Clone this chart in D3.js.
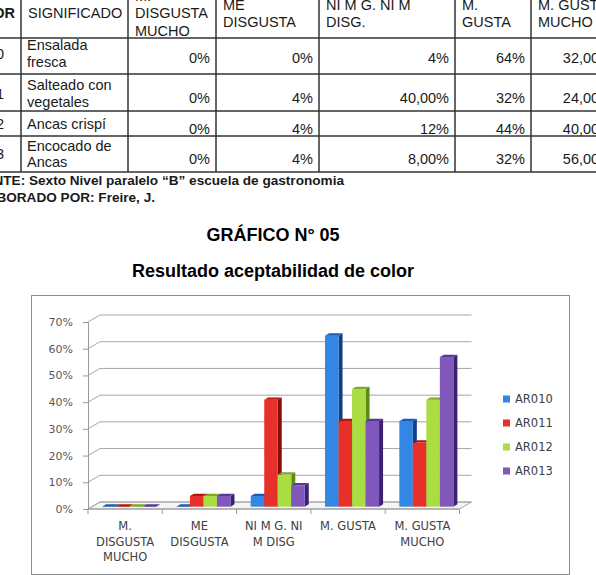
<!DOCTYPE html>
<html>
<head>
<meta charset="utf-8">
<script src="https://cdn.jsdelivr.net/npm/d3@7"></script>
<style>
  body { margin: 0; background: #fff; }
  svg { display: block; }
</style>
</head>
<body>
<svg id="chart" width="596" height="575"></svg>
<script>
// chart data
const categories = ['M. DISGUSTA MUCHO', 'ME DISGUSTA', 'NI M G. NI M DISG', 'M. GUSTA', 'M. GUSTA MUCHO']
const categoryLines = [['M.', 'DISGUSTA', 'MUCHO'], ['ME', 'DISGUSTA'], ['NI M G. NI', 'M DISG'], ['M. GUSTA'], ['M. GUSTA', 'MUCHO']]
const seriesNames = ['AR010', 'AR011', 'AR012', 'AR013']
const ar010 = [0, 0, 0.04, 0.64, 0.32]
const ar011 = [0, 0.04, 0.40, 0.32, 0.24]
const ar012 = [0, 0.04, 0.12, 0.44, 0.40]
const ar013 = [0, 0.04, 0.08, 0.32, 0.56]
const yTicks = [0, 0.1, 0.2, 0.3, 0.4, 0.5, 0.6, 0.7]

// table data
const tableHead = [['COLOR'], ['SIGNIFICADO'], ['M.', 'DISGUSTA', 'MUCHO'], ['ME', 'DISGUSTA'], ['NI M G. NI M', 'DISG.'], ['M.', 'GUSTA'], ['M. GUSTA', 'MUCHO']]
const dishNames = [['Ensalada', 'fresca'], ['Salteado con', 'vegetales'], ['Ancas crispí'], ['Encocado de', 'Ancas']]
const tableValues = [
  ['0%', '0%', '4%', '64%', '32,00%'],
  ['0%', '4%', '40,00%', '32%', '24,00%'],
  ['0%', '4%', '12%', '44%', '40,00%'],
  ['0%', '4%', '8,00%', '32%', '56,00%']
]
const fuente = 'FUENTE: Sexto Nivel paralelo “B” escuela de gastronomia'
const elaborado = 'ELABORADO POR: Freire, J.'

const svg = d3.select('#chart')

//---------- table ----------
const colX = [-46, 21, 128, 216, 319, 455, 531, 618]
const rowY = [-30, 38, 74, 111, 136, 172]
const tFont = 'Liberation Sans, Arial, sans-serif'
const table = svg.append('g')
  .attr('font-family', tFont)
  .attr('font-size', 14.5)
  .attr('fill', '#1a1a1a')

colX.forEach(x => {
  table.append('line').attr('x1', x).attr('x2', x).attr('y1', rowY[0]).attr('y2', rowY[5])
    .attr('stroke', '#333').attr('stroke-width', 1.5)
})
rowY.forEach(y => {
  table.append('line').attr('x1', colX[0]).attr('x2', colX[7]).attr('y1', y).attr('y2', y)
    .attr('stroke', '#333').attr('stroke-width', 1.5)
})

// header cells, lines centred round the middle of the header row
const headMid = 18.3
tableHead.forEach((lines, i) => {
  const t = table.append('text')
    .attr('font-weight', i == 0 ? 'bold' : null)
    .attr('text-anchor', i == 0 ? 'end' : 'start')
  lines.forEach((s, k) => {
    const y = headMid + (k - (lines.length - 1) / 2) * 17.2
    t.append('tspan').attr('x', i == 0 ? 15 : colX[i] + 7).attr('y', y).text(s)
  })
})

const rowCenters = [58.5, 98.5, 129, 159]
dishNames.forEach((lines, r) => {
  table.append('text').attr('x', 4).attr('y', rowCenters[r]).attr('text-anchor', 'end')
    .text(seriesNames[r])
  const t = table.append('text')
  lines.forEach((s, k) => {
    const y = rowCenters[r] + 4 + (k - (lines.length - 1) / 2) * 16.5
    t.append('tspan').attr('x', 27).attr('y', y - 4).text(s)
  })
  tableValues[r].forEach((v, c) => {
    table.append('text').attr('x', colX[c + 3] - 6).attr('y', rowCenters[r] + 4.5)
      .attr('text-anchor', 'end').text(v)
  })
})

table.append('text').attr('x', 344).attr('y', 185).attr('text-anchor', 'end')
  .attr('font-weight', 'bold').attr('font-size', 13.6).text(fuente)
table.append('text').attr('x', 155).attr('y', 201.5).attr('text-anchor', 'end')
  .attr('font-weight', 'bold').attr('font-size', 13.6).text(elaborado)

//---------- titles ----------
svg.append('text').attr('x', 273).attr('y', 241).attr('text-anchor', 'middle')
  .attr('font-family', tFont).attr('font-weight', 'bold').attr('font-size', 18)
  .text('GRÁFICO N° 05')
svg.append('text').attr('x', 273).attr('y', 277).attr('text-anchor', 'middle')
  .attr('font-family', tFont).attr('font-weight', 'bold').attr('font-size', 18)
  .text('Resultado aceptabilidad de color')

//---------- chart ----------
svg.append('rect').attr('x', 31.5).attr('y', 295.5).attr('width', 538).attr('height', 279)
  .attr('fill', '#fff').attr('stroke', '#8c8c8c')

const cFont = 'DejaVu Sans, sans-serif'
const depthX = 12, depthY = -7

const yScale = d3.scaleLinear().domain([0, 0.7]).range([509, 322])
const xScale = d3.scaleBand().domain(categories).range([88, 459.5])
const xInner = d3.scaleBand().domain(seriesNames).range([0, xScale.bandwidth()]).paddingOuter(0.75)

const seriesData = [ar010, ar011, ar012, ar013]
const colors = d3.scaleOrdinal().domain(seriesNames).range(['#3386e3', '#e8302b', '#a9dd41', '#8057bb'])
const topColors = d3.scaleOrdinal().domain(seriesNames).range(['#1c5cb4', '#b3150f', '#7aa82a', '#5a3794'])
const sideColors = d3.scaleOrdinal().domain(seriesNames).range(['#123f85', '#8a0c08', '#5e8a1a', '#3c2170'])

const g = svg.append('g')

// floor
const x0 = xScale.range()[0], x1 = xScale.range()[1]
g.append('path')
  .attr('d', `M${x0},${yScale(0)}L${x1},${yScale(0)}L${x1 + depthX},${yScale(0) + depthY}L${x0 + depthX},${yScale(0) + depthY}Z`)
  .attr('fill', '#f4f4f4').attr('stroke', '#a6a6a6')

// back wall gridlines with the diagonal connectors
yTicks.forEach(v => {
  const y = yScale(v)
  g.append('path')
    .attr('d', `M${x0},${y}L${x0 + depthX},${y + depthY}L${x1 + depthX},${y + depthY}`)
    .attr('fill', 'none').attr('stroke', '#a6a6a6')
})

// y axis
const yAxis = svg.append('g').attr('transform', `translate(${x0},0)`)
  .call(d3.axisLeft(yScale).tickValues(yTicks).tickFormat(d3.format('.0%')).tickSize(5).tickSizeOuter(0))
yAxis.select('.domain').attr('stroke', '#999')
yAxis.selectAll('.tick line').attr('stroke', '#999')
yAxis.selectAll('text').attr('font-family', cFont).attr('font-size', 11).attr('fill', '#595959').attr('x', -15)

// x axis
const xAxis = svg.append('g').attr('transform', `translate(0,${yScale(0)})`)
xAxis.append('line').attr('x1', x0).attr('x2', x1).attr('stroke', '#999')
const bounds = categories.map(c => xScale(c)).concat([x1])
xAxis.selectAll('.tk').data(bounds).join('line')
  .attr('x1', d => d).attr('x2', d => d).attr('y1', 0).attr('y2', 5).attr('stroke', '#999')
categories.forEach((c, i) => {
  const t = xAxis.append('text').attr('text-anchor', 'middle')
    .attr('font-family', cFont).attr('font-size', 11.5).attr('fill', '#404040')
  categoryLines[i].forEach((s, k) => {
    t.append('tspan').attr('x', xScale(c) + xScale.bandwidth() / 2).attr('y', 21 + k * 15.6).text(s)
  })
})

// 3D bars, drawn left to right so each front face covers the previous side face
const barDx = 4, barDy = -4 * 7 / 12
const shiftX = 4, shiftY = -4 * 7 / 12
categories.forEach((c, i) => {
  seriesNames.forEach((s, j) => {
    const v = seriesData[j][i]
    const bx = xScale(c) + xInner(s) + shiftX
    const bw = xInner.bandwidth()
    const yb = yScale(0) + shiftY
    const yt = yScale(v) + shiftY
    const bar = g.append('g')
    bar.append('path')
      .attr('d', `M${bx + bw},${yb}L${bx + bw + barDx},${yb + barDy}L${bx + bw + barDx},${yt + barDy}L${bx + bw},${yt}Z`)
      .attr('fill', sideColors(s))
    bar.append('rect').attr('x', bx).attr('y', yt).attr('width', bw).attr('height', yb - yt)
      .attr('fill', colors(s))
    bar.append('path')
      .attr('d', `M${bx},${yt}L${bx + barDx},${yt + barDy}L${bx + bw + barDx},${yt + barDy}L${bx + bw},${yt}Z`)
      .attr('fill', topColors(s))
  })
})

// legend
const legend = svg.append('g').attr('font-family', cFont).attr('font-size', 11.5).attr('fill', '#404040')
seriesNames.forEach((s, i) => {
  const y = 399 + i * 24
  legend.append('rect').attr('x', 503).attr('y', y - 3.5).attr('width', 7).attr('height', 7).attr('fill', colors(s))
  legend.append('text').attr('x', 515).attr('y', y + 4).text(s)
})
</script>
</body>
</html>
